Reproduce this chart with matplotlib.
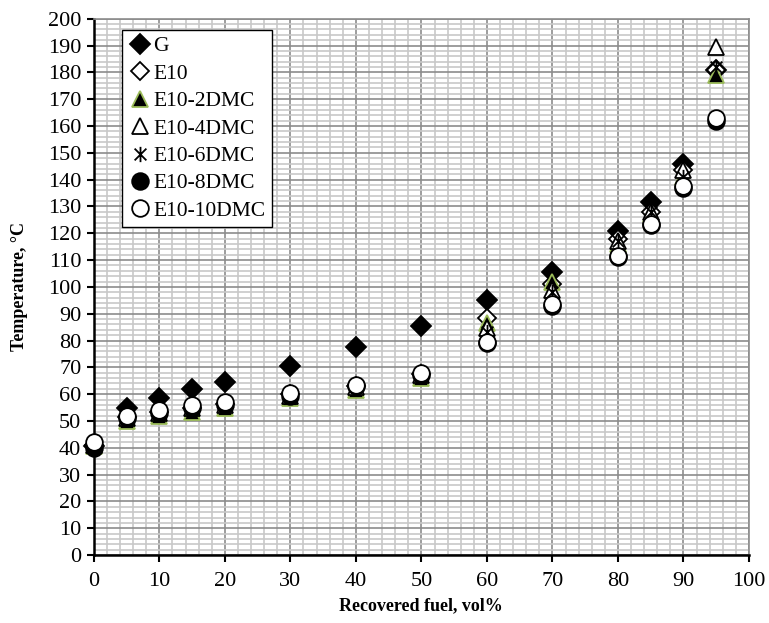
import matplotlib.pyplot as plt
import numpy as np
from matplotlib.path import Path
from matplotlib.ticker import MultipleLocator

plt.rcParams["font.family"] = ["Liberation Serif", "DejaVu Serif"]

# recovered volume fraction, vol%
recovered = [0, 5, 10, 15, 20, 30, 40, 50, 60, 70, 80, 85, 90, 95]

# distillation temperatures, degC
t_g = [40.5, 55, 58.5, 62, 64.5, 70.5, 77.5, 85.5, 95, 105.5, 121, 131.5, 146, 181]
t_e10 = [41, 51.5, 53.5, 55, 56.5, 60, 63, 67.5, 88.5, 101, 118, 128, 143.5, 181]
t_e10_2dmc = [40.5, 50, 52, 53.5, 55, 58.5, 61.5, 66, 86.5, 102, 116, 127, 141, 179]
t_e10_4dmc = [41, 51, 53, 55, 56, 59.5, 62.5, 67, 84.5, 99, 117, 128, 143.5, 189.5]
t_e10_6dmc = [41, 51, 53.5, 55.5, 57, 60, 63, 67, 83, 98, 117, 128, 141, 182]
t_e10_8dmc = [40, 51, 53, 55, 56, 59.5, 63, 67, 79, 93, 111, 123, 137, 162]
t_e10_10dmc = [42, 52, 54, 56, 57, 60.5, 63.5, 68, 79.5, 93.5, 111.5, 123.5, 137.5, 163]

labels = ["G", "E10", "E10-2DMC", "E10-4DMC", "E10-6DMC", "E10-8DMC", "E10-10DMC"]

# asterisk marker: x with a vertical bar
star = Path(
    [(-1, -1), (1, 1), (-1, 1), (1, -1), (0, -1.3), (0, 1.3)],
    [Path.MOVETO, Path.LINETO, Path.MOVETO, Path.LINETO, Path.MOVETO, Path.LINETO],
)

styles = [
    dict(marker="D", markerfacecolor="black", markeredgecolor="black", markersize=10),
    dict(marker="D", markerfacecolor="white", markeredgecolor="black", markersize=9),
    dict(marker="^", markerfacecolor="black", markeredgecolor="#9bbb59", markersize=11),
    dict(marker="^", markerfacecolor="white", markeredgecolor="black", markersize=11),
    dict(marker=star, markerfacecolor="none", markeredgecolor="black", markersize=11),
    dict(marker="o", markerfacecolor="black", markeredgecolor="black", markersize=12),
    dict(marker="o", markerfacecolor="white", markeredgecolor="black", markersize=12),
]

series = [t_g, t_e10, t_e10_2dmc, t_e10_4dmc, t_e10_6dmc, t_e10_8dmc, t_e10_10dmc]

fig = plt.figure(figsize=(7.69, 6.23), dpi=100)
ax = fig.add_axes([0.122, 0.109, 0.852, 0.861])

for temps, label, style in zip(series, labels, styles):
    ax.plot(recovered, temps, linestyle="none", label=label, markeredgewidth=1.3,
            zorder=3, clip_on=False, **style)

ax.set_xlim(0, 100)
ax.set_ylim(0, 200)
ax.xaxis.set_major_locator(MultipleLocator(10))
ax.yaxis.set_major_locator(MultipleLocator(10))
ax.xaxis.set_minor_locator(MultipleLocator(2))
ax.yaxis.set_minor_locator(MultipleLocator(2))

ax.grid(which="minor", color="#c8c8c8", linewidth=1.2)
ax.grid(which="major", color="#8c8c8c", linewidth=1.2)
ax.set_axisbelow(True)

ax.tick_params(which="minor", length=0)
ax.tick_params(which="major", direction="out", length=5, width=1.5, labelsize=16,
               color="black")
ax.tick_params(axis="x", pad=7)
ax.tick_params(axis="y", pad=4)

for side in ("top", "right"):
    ax.spines[side].set_color("#8c8c8c")
    ax.spines[side].set_linewidth(1.2)
for side in ("left", "bottom"):
    ax.spines[side].set_color("black")
    ax.spines[side].set_linewidth(1.8)

ax.set_xlabel("Recovered fuel, vol%", fontsize=13, fontweight="bold")
ax.set_ylabel("Temperature, °C", fontsize=13, fontweight="bold")
ax.xaxis.set_label_coords(0.5, -0.078)
ax.yaxis.set_label_coords(-0.1, 0.5)

leg = ax.legend(loc="upper left", bbox_to_anchor=(0.043, 0.979), fontsize=15.5,
                frameon=True, fancybox=False, edgecolor="black", framealpha=1,
                handletextpad=0.05, handlelength=1.1, borderpad=0.3,
                borderaxespad=0, labelspacing=0.34)
leg.get_frame().set_linewidth(1.0)

plt.savefig("out.png", dpi=100)
plt.close(fig)
